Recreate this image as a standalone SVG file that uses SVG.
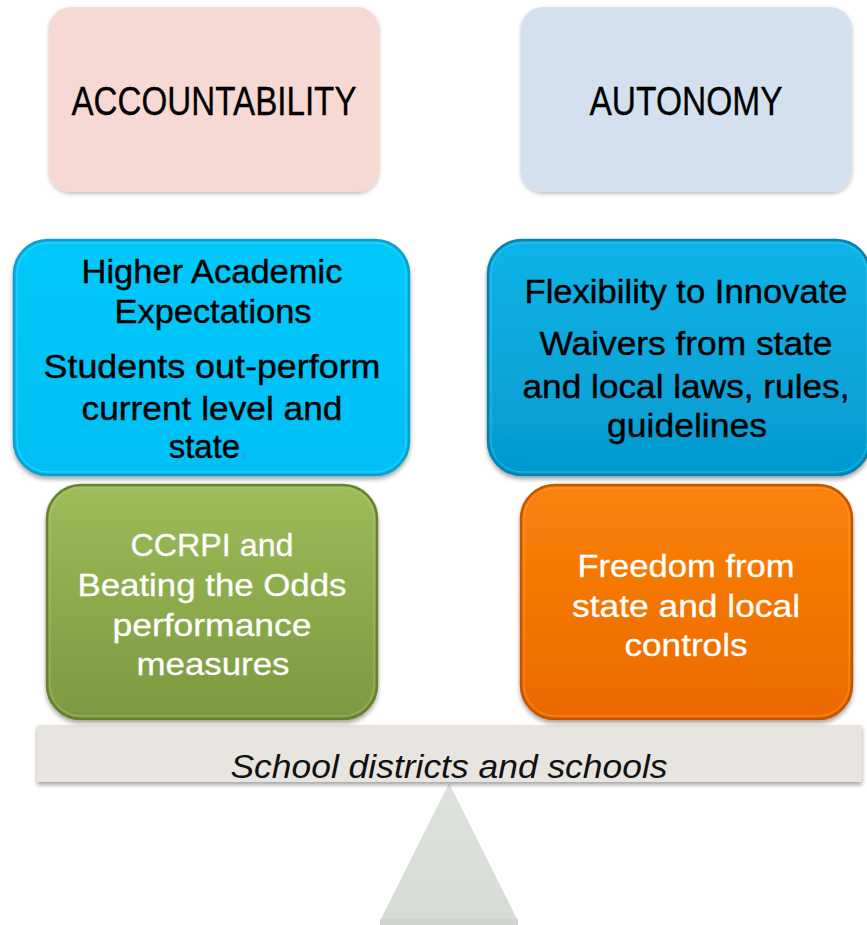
<svg xmlns="http://www.w3.org/2000/svg" width="867" height="925" viewBox="0 0 867 925">
  <defs>
    <filter id="shadow" x="-10%" y="-10%" width="120%" height="125%">
      <feDropShadow dx="0" dy="3" stdDeviation="2.2" flood-color="#000" flood-opacity="0.35"/>
    </filter>
    <filter id="softShadow" x="-10%" y="-10%" width="120%" height="125%">
      <feDropShadow dx="0" dy="2" stdDeviation="2" flood-color="#000" flood-opacity="0.25"/>
    </filter>
    <linearGradient id="cyanL" x1="0" y1="0" x2="0" y2="1">
      <stop offset="0" stop-color="#05c8fb"/>
      <stop offset="1" stop-color="#00c0f5"/>
    </linearGradient>
    <linearGradient id="cyanR" x1="0" y1="0" x2="0" y2="1">
      <stop offset="0" stop-color="#0db4e8"/>
      <stop offset="1" stop-color="#0599cf"/>
    </linearGradient>
    <linearGradient id="green" x1="0" y1="0" x2="0" y2="1">
      <stop offset="0" stop-color="#9cbd59"/>
      <stop offset="1" stop-color="#7b993f"/>
    </linearGradient>
    <linearGradient id="orange" x1="0" y1="0" x2="0" y2="1">
      <stop offset="0" stop-color="#fb8209"/>
      <stop offset="1" stop-color="#ec6900"/>
    </linearGradient>
    <linearGradient id="fulcrum" x1="0" y1="0" x2="0" y2="1">
      <stop offset="0" stop-color="#dde2da"/>
      <stop offset="1" stop-color="#d6dbd3"/>
    </linearGradient>
  </defs>
  <style>
    text { font-family: "Liberation Sans", Arial, sans-serif; text-anchor: middle; }
    .head { font-size: 40px; fill: #000; stroke: #000; stroke-width: 0.3; }
    .dark { font-size: 33px; fill: #000; stroke: #000; stroke-width: 0.4; }
    .light { font-size: 32px; fill: #fff; stroke: #fff; stroke-width: 0.3; }
    .base { font-size: 33px; font-style: italic; fill: #111; }
  </style>

  <!-- fulcrum -->
  <g id="fulcrum-node">
    <polygon points="449,783 380,921 518,921" fill="url(#fulcrum)"/>
    <rect x="380" y="919" width="138" height="6" fill="#cfd4cc"/>
  </g>

  <!-- beam -->
  <g id="beam">
    <rect x="37" y="725" width="825" height="57" fill="#e8e4df" filter="url(#shadow)"/>
    <text class="base" x="449" y="778" textLength="437" lengthAdjust="spacingAndGlyphs">School districts and schools</text>
  </g>

  <!-- top headings -->
  <g id="accountability">
    <rect x="49" y="7" width="330" height="185" rx="22" fill="#f5d9d2" filter="url(#softShadow)"/>
    <text class="head" x="214" y="115" textLength="285" lengthAdjust="spacingAndGlyphs">ACCOUNTABILITY</text>
  </g>
  <g id="autonomy">
    <rect x="521" y="7" width="331" height="185" rx="22" fill="#d3e0ed" filter="url(#softShadow)"/>
    <text class="head" x="686" y="115" textLength="193" lengthAdjust="spacingAndGlyphs">AUTONOMY</text>
  </g>

  <!-- expectations -->
  <g id="expectations">
    <rect x="14" y="240" width="395" height="235" rx="34" fill="url(#cyanL)" stroke="#0b9fcb" stroke-width="2.5" filter="url(#shadow)"/>
    <rect x="17" y="243" width="389" height="229" rx="31" fill="none" stroke="#5fdcff" stroke-width="1" opacity="0.6"/>
    <text class="dark" x="212" y="283" textLength="261" lengthAdjust="spacingAndGlyphs">Higher Academic</text>
    <text class="dark" x="213" y="323" textLength="197" lengthAdjust="spacingAndGlyphs">Expectations</text>
    <text class="dark" x="212" y="378" textLength="337" lengthAdjust="spacingAndGlyphs">Students out-perform</text>
    <text class="dark" x="212" y="420" textLength="261" lengthAdjust="spacingAndGlyphs">current level and</text>
    <text class="dark" x="209" y="458">state<tspan fill="#3d9be0" stroke="none">.</tspan></text>
  </g>

  <!-- flexibility -->
  <g id="flexibility">
    <rect x="488" y="240" width="382" height="235" rx="34" fill="url(#cyanR)" stroke="#087fae" stroke-width="2.5" filter="url(#shadow)"/>
    <rect x="491" y="243" width="376" height="229" rx="31" fill="none" stroke="#45cdf5" stroke-width="1" opacity="0.6"/>
    <text class="dark" x="686" y="303" textLength="323" lengthAdjust="spacingAndGlyphs">Flexibility to Innovate</text>
    <text class="dark" x="686" y="355" textLength="293" lengthAdjust="spacingAndGlyphs">Waivers from state</text>
    <text class="dark" x="686" y="398" textLength="327" lengthAdjust="spacingAndGlyphs">and local laws, rules,</text>
    <text class="dark" x="687" y="437" textLength="160" lengthAdjust="spacingAndGlyphs">guidelines</text>
  </g>

  <!-- performance measures -->
  <g id="measures">
    <rect x="47" y="485" width="330" height="234" rx="34" fill="url(#green)" stroke="#677f33" stroke-width="2.5" filter="url(#shadow)"/>
    <rect x="50" y="488" width="324" height="228" rx="31" fill="none" stroke="#b3d174" stroke-width="1" opacity="0.6"/>
    <text class="light" x="212" y="556" textLength="163" lengthAdjust="spacingAndGlyphs">CCRPI and</text>
    <text class="light" x="212" y="596" textLength="269" lengthAdjust="spacingAndGlyphs">Beating the Odds</text>
    <text class="light" x="212" y="636" textLength="199" lengthAdjust="spacingAndGlyphs">performance</text>
    <text class="light" x="213" y="675" textLength="153" lengthAdjust="spacingAndGlyphs">measures</text>
  </g>

  <!-- freedom -->
  <g id="freedom">
    <rect x="521" y="485" width="331" height="234" rx="34" fill="url(#orange)" stroke="#c35500" stroke-width="2.5" filter="url(#shadow)"/>
    <rect x="524" y="488" width="325" height="228" rx="31" fill="none" stroke="#ffa445" stroke-width="1" opacity="0.6"/>
    <text class="light" x="686" y="577" textLength="217" lengthAdjust="spacingAndGlyphs">Freedom from</text>
    <text class="light" x="686" y="617" textLength="228" lengthAdjust="spacingAndGlyphs">state and local</text>
    <text class="light" x="686" y="656" textLength="123" lengthAdjust="spacingAndGlyphs">controls</text>
  </g>

  <!-- no connectors: the scale is drawn as beam and fulcrum shapes -->
  <g id="connectors"/>
</svg>
